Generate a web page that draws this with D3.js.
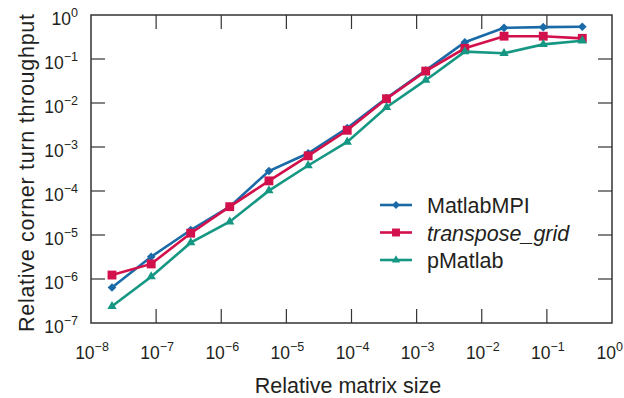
<!DOCTYPE html>
<html>
<head>
<meta charset="utf-8">
<script src="https://cdn.jsdelivr.net/npm/d3@7"></script>
<style>
  body { margin: 0; background: #fff; }
  text { font-family: "Liberation Sans", Arial, sans-serif; fill: #231f20; }
</style>
</head>
<body>
<svg></svg>
<script>
// relative matrix size (x) shared by all series
let sizes = [2.1e-8, 8.4e-8, 3.4e-7, 1.35e-6, 5.4e-6, 2.16e-5, 8.6e-5,
             3.45e-4, 1.38e-3, 5.5e-3, 2.2e-2, 8.8e-2, 3.5e-1];

let matlabMPI     = [6.4e-7, 3.2e-6, 1.3e-5, 4.4e-5, 2.85e-4, 7.2e-4, 2.7e-3,
                     1.3e-2, 5.5e-2, 0.24, 0.51, 0.53, 0.54];
let transposeGrid = [1.23e-6, 2.2e-6, 1.1e-5, 4.4e-5, 1.7e-4, 6.3e-4, 2.4e-3,
                     1.25e-2, 5.3e-2, 0.175, 0.33, 0.33, 0.295];
let pMatlab       = [2.4e-7, 1.13e-6, 6.7e-6, 2.0e-5, 1.02e-4, 3.8e-4, 1.3e-3,
                     8.0e-3, 3.3e-2, 0.147, 0.135, 0.215, 0.26];

let xTicks = [-8, -7, -6, -5, -4, -3, -2, -1, 0];
let yTicks = [-7, -6, -5, -4, -3, -2, -1, 0];

let series = [
  { name: 'MatlabMPI',      values: matlabMPI,     color: '#1b6aa8', symbol: d3.symbolDiamond2,  size: 48,  italic: false },
  { name: 'transpose_grid', values: transposeGrid, color: '#d2114c', symbol: d3.symbolSquare2,   size: 100, italic: true },
  { name: 'pMatlab',        values: pMatlab,       color: '#159783', symbol: d3.symbolTriangle2, size: 62,  italic: false }
];

let width   = 624,
    height  = 398,
    mLeft   = 91,
    mRight  = 612,
    mTop    = 15,
    mBottom = 323,
    tickLen = 14;

let xScale = d3.scaleLog().domain([1e-8, 1]).range([mLeft, mRight]),
    yScale = d3.scaleLog().domain([1e-7, 1]).range([mBottom, mTop]);

let svg = d3.select('svg')
            .attr('width', width)
            .attr('height', height);

// frame
svg.append('rect')
   .attr('x', mLeft).attr('y', mTop)
   .attr('width', mRight - mLeft).attr('height', mBottom - mTop)
   .attr('fill', 'none').attr('stroke', '#333').attr('stroke-width', 1.5);

// inward ticks on all four sides
let ticks = svg.append('g').attr('stroke', '#333').attr('stroke-width', 1.2);
xTicks.slice(1, -1).forEach(e => {
  let x = xScale(Math.pow(10, e));
  ticks.append('line').attr('x1', x).attr('x2', x).attr('y1', mBottom).attr('y2', mBottom - tickLen);
  ticks.append('line').attr('x1', x).attr('x2', x).attr('y1', mTop).attr('y2', mTop + tickLen);
});
yTicks.slice(1, -1).forEach(e => {
  let y = yScale(Math.pow(10, e));
  ticks.append('line').attr('y1', y).attr('y2', y).attr('x1', mLeft).attr('x2', mLeft + tickLen);
  ticks.append('line').attr('y1', y).attr('y2', y).attr('x1', mRight).attr('x2', mRight - tickLen);
});

// tick labels: 10 with superscript exponent
function powLabel(sel, e) {
  sel.append('tspan').text('10');
  sel.append('tspan')
     .attr('dy', -8)
     .attr('font-size', 12.5)
     .text(e < 0 ? '\u2212' + (-e) : e);
}
xTicks.forEach(e => {
  let last = e === xTicks[xTicks.length - 1];
  svg.append('text')
     .attr('x', last ? width - 1 : xScale(Math.pow(10, e)) + 1)
     .attr('y', 359)
     .attr('text-anchor', last ? 'end' : 'middle')
     .attr('font-size', 17.5)
     .call(powLabel, e);
});
yTicks.forEach(e => {
  svg.append('text')
     .attr('x', 78)
     .attr('y', yScale(Math.pow(10, e)) + 9.5)
     .attr('text-anchor', 'end')
     .attr('font-size', 17.5)
     .call(powLabel, e);
});

// axis titles
svg.append('text')
   .attr('x', 348)
   .attr('y', 393)
   .attr('text-anchor', 'middle')
   .attr('font-size', 21.5)
   .text('Relative matrix size');

svg.append('text')
   .attr('transform', 'rotate(-90)')
   .attr('x', -173)
   .attr('y', 34)
   .attr('text-anchor', 'middle')
   .attr('font-size', 21.5)
   .attr('textLength', 318)
   .attr('lengthAdjust', 'spacing')
   .text('Relative corner turn throughput');

// lines and markers
let line = d3.line()
             .x((d, i) => xScale(sizes[i]))
             .y(d => yScale(d));

series.forEach(s => {
  svg.append('path')
     .datum(s.values)
     .attr('d', line)
     .attr('fill', 'none')
     .attr('stroke', s.color)
     .attr('stroke-width', 2.6);

  svg.selectAll(null)
     .data(s.values)
     .enter()
     .append('path')
       .attr('d', d3.symbol().type(s.symbol).size(s.size))
       .attr('transform', (d, i) => `translate(${xScale(sizes[i])},${yScale(d)})`)
       .attr('fill', s.color);
});

// legend
let legend = svg.append('g');
series.forEach((s, i) => {
  let y = 205 + i * 27.5;
  legend.append('line')
        .attr('x1', 380).attr('x2', 412)
        .attr('y1', y).attr('y2', y)
        .attr('stroke', s.color).attr('stroke-width', 2.6);
  legend.append('path')
        .attr('d', d3.symbol().type(s.symbol).size(s.size * 0.8))
        .attr('transform', `translate(396,${y})`)
        .attr('fill', s.color);
  legend.append('text')
        .attr('x', 427)
        .attr('y', y + 8)
        .attr('font-size', 21.5)
        .attr('font-style', s.italic ? 'italic' : 'normal')
        .text(s.name);
});
</script>
</body>
</html>
